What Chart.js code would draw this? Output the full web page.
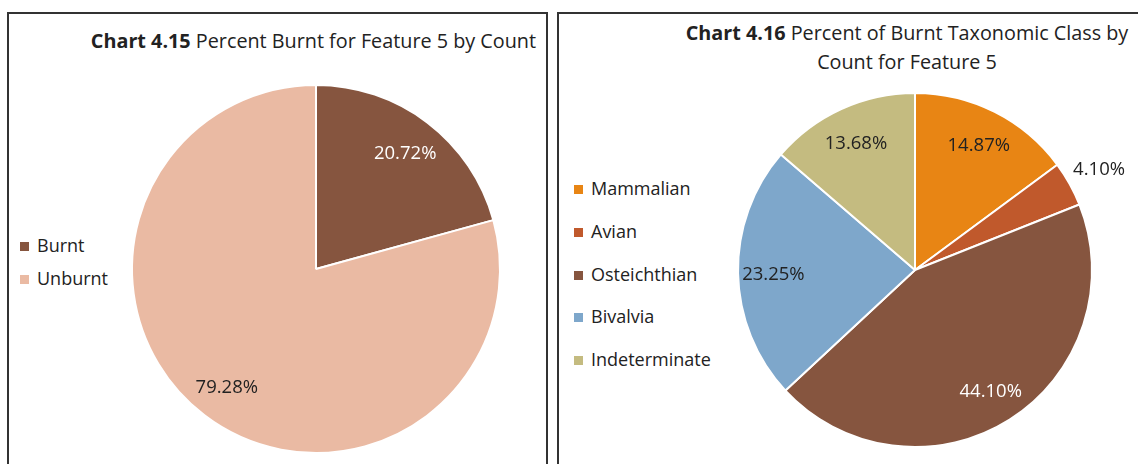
<!DOCTYPE html>
<html lang="en">
<head>
  <meta charset="UTF-8">
  <title>Burnt Bone Feature 5</title>
  <script src="https://cdn.jsdelivr.net/npm/chart.js"></script>
  <style>
    body {
      margin: 0;
      width: 1138px;
      height: 464px;
      overflow: hidden;
      background: #ffffff;
      font-family: 'Open Sans', sans-serif;
      color: #222;
      position: relative;
    }
    .box {
      position: absolute;
      top: 12px;
      height: 520px;
      box-sizing: border-box;
      border: 2px solid #333;
    }
    .title {
      position: absolute;
      font-size: 19.8px;
      line-height: 29px;
      white-space: nowrap;
    }
    .title b { font-weight: 700; }
    .legend {
      position: absolute;
      font-size: 18px;
    }
    .legend div {
      position: absolute;
      white-space: nowrap;
      line-height: 20px;
    }
    .legend span {
      display: inline-block;
      width: 9px;
      height: 9px;
      margin-right: 8px;
      vertical-align: 1px;
    }
    canvas { position: absolute; }
  </style>
</head>
<body>
  <div class="box" style="left:7px; width:541px;"></div>
  <div class="box" style="left:557px; width:620px;"></div>

  <div class="title" style="right:602px; top:26px;"><b>Chart 4.15</b> Percent Burnt for Feature 5 by Count</div>
  <div class="title" style="left:660px; width:494px; top:18px; text-align:center;"><b>Chart 4.16</b> Percent of Burnt Taxonomic Class by<br>Count for Feature 5</div>

  <div class="legend" id="legend1" style="left:20px; top:0;"></div>
  <div class="legend" id="legend2" style="left:574px; top:0;"></div>

  <div style="position:absolute; left:8px; top:13px; width:538px; height:451px;">
    <canvas id="chart1"></canvas>
  </div>
  <div style="position:absolute; left:559px; top:13px; width:579px; height:451px;">
    <canvas id="chart2"></canvas>
  </div>

  <script>
    // chart 4.15
    const burntLabels = ['Burnt', 'Unburnt'];
    const burntValues = [20.72, 79.28];
    const burntColors = ['#86553f', '#eabaa3'];

    // chart 4.16
    const taxaLabels = ['Mammalian', 'Avian', 'Osteichthian', 'Bivalvia', 'Indeterminate'];
    const taxaValues = [14.87, 4.10, 44.10, 23.25, 13.68];
    const taxaColors = ['#e88514', '#c0592c', '#86553f', '#7ea7cb', '#c4bb80'];

    // slices drawn on a dark fill get white text
    const darkSlices = ['#86553f'];

    // percent labels on each slice, pushed outside when the slice is small
    const sliceLabels = {
      id: 'sliceLabels',
      afterDatasetsDraw(chart) {
        const c = chart.ctx;
        const ds = chart.data.datasets[0];
        const meta = chart.getDatasetMeta(0);
        c.save();
        c.font = '18.5px "Open Sans"';
        c.textAlign = 'center';
        c.textBaseline = 'middle';
        meta.data.forEach((arc, i) => {
          const p = arc.getProps(['x', 'y', 'startAngle', 'endAngle', 'outerRadius'], true);
          const mid = (p.startAngle + p.endAngle) / 2;
          const small = ds.data[i] < 5;
          const r = p.outerRadius * (small ? 1.19 : 0.8);
          c.fillStyle = (!small && darkSlices.includes(ds.backgroundColor[i])) ? '#ffffff' : '#222222';
          c.fillText(ds.data[i].toFixed(2) + '%', p.x + Math.cos(mid) * r, p.y + Math.sin(mid) * r + 2);
        });
        c.restore();
      }
    };

    function buildLegend(id, labels, colors, firstY, step) {
      const el = document.getElementById(id);
      labels.forEach((name, i) => {
        const row = document.createElement('div');
        row.style.top = (firstY + i * step - 10) + 'px';
        row.innerHTML = '<span style="background:' + colors[i] + '"></span>' + name;
        el.appendChild(row);
      });
    }
    buildLegend('legend1', burntLabels, burntColors, 245, 33);
    buildLegend('legend2', taxaLabels, taxaColors, 188, 42.75);

    function makePie(id, labels, values, colors, padding) {
      return new Chart(document.getElementById(id), {
        type: 'pie',
        data: {
          labels: labels,
          datasets: [{
            data: values,
            backgroundColor: colors,
            borderColor: '#ffffff',
            borderWidth: 2
          }]
        },
        options: {
          responsive: true,
          maintainAspectRatio: false,
          animation: false,
          layout: { padding: padding },
          plugins: {
            legend: { display: false },
            tooltip: { enabled: false }
          }
        },
        plugins: [sliceLabels]
      });
    }

    makePie('chart1', burntLabels, burntValues, burntColors, { left: 123, right: 45, top: 71, bottom: 10 });
    makePie('chart2', taxaLabels, taxaValues, taxaColors, { left: 178, right: 45, top: 79, bottom: 16 });
  </script>
</body>
</html>
